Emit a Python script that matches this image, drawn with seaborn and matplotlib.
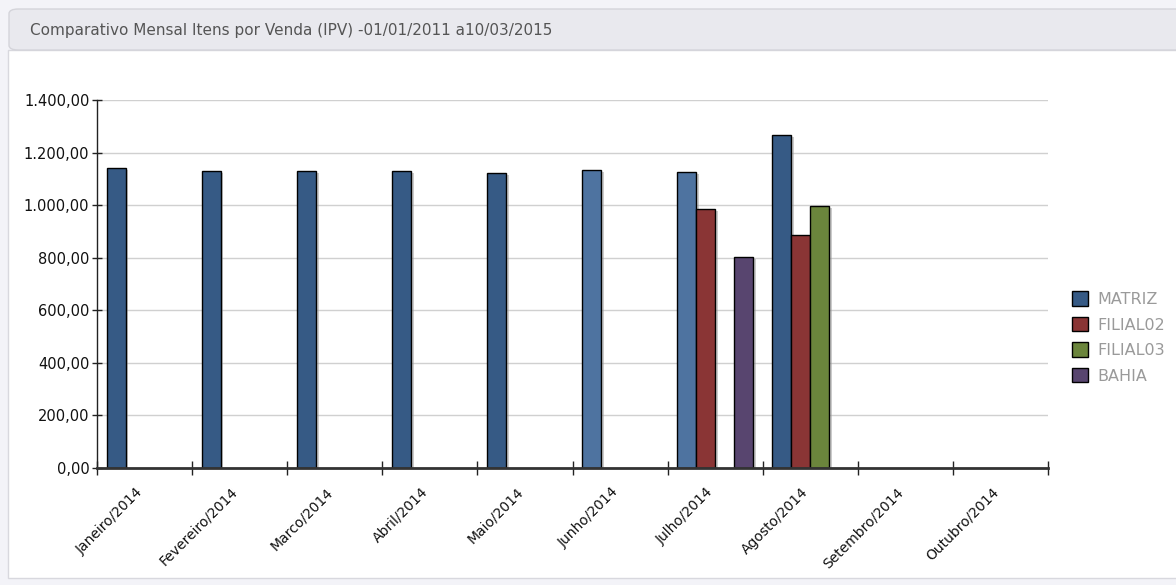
import numpy as np
import pandas as pd
import matplotlib
matplotlib.use("Agg")
import matplotlib.pyplot as plt
import seaborn as sns
from matplotlib.patches import FancyBboxPatch, Rectangle, Patch
from matplotlib.ticker import FixedLocator, FuncFormatter
from matplotlib.transforms import ScaledTranslation
import matplotlib.patheffects as pe

# ---- data ----
months = ["Janeiro/2014", "Fevereiro/2014", "Marco/2014", "Abril/2014", "Maio/2014",
          "Junho/2014", "Julho/2014", "Agosto/2014", "Setembro/2014", "Outubro/2014"]
series = ["MATRIZ", "FILIAL02", "FILIAL03", "BAHIA"]
matriz   = [1141, 1130, 1130, 1130, 1122, 1133, 1127, 1268, np.nan, np.nan]
filial02 = [np.nan] * 6 + [987, 888, np.nan, np.nan]
filial03 = [np.nan] * 7 + [998, np.nan, np.nan]
bahia    = [np.nan] * 6 + [804, np.nan, np.nan, np.nan]
colors = ["#365a85", "#8a3535", "#6b853c", "#58456f"]
highlight_color = "#4e73a0"
highlight_months = ["Junho/2014", "Julho/2014"]
title = "Comparativo Mensal Itens por Venda (IPV) -01/01/2011 a10/03/2015"

rows = []
for name, vals in zip(series, [matriz, filial02, filial03, bahia]):
    for m, v in zip(months, vals):
        rows.append({"mes": m, "serie": name, "valor": v})
df = pd.DataFrame(rows)

sns.set_style("white")
plt.rcParams["font.family"] = ["DejaVu Sans"]

W, H = 1176, 585
fig = plt.figure(figsize=(W / 100, H / 100), dpi=100)
fig.patch.set_facecolor("#f3f3f8")

def fx(px):
    return px / W

def fy(py):
    return 1 - py / H

# panel body
fig.patches.append(Rectangle((fx(8), fy(578)), fx(1200 - 8), (578 - 50) / H,
                             transform=fig.transFigure, facecolor="white",
                             edgecolor="#d8d8de", linewidth=1, zorder=-2))
# header
fig.patches.append(FancyBboxPatch((fx(9), fy(50)), fx(1200), (50 - 9) / H,
                                  boxstyle="round,pad=0,rounding_size=0.008",
                                  transform=fig.transFigure, facecolor="#e9e9ee",
                                  edgecolor="#d4d4da", linewidth=1, zorder=-1))
fig.text(fx(30), fy(31), title, fontsize=11, color="#555555", va="center", ha="left")

ax = fig.add_axes([fx(97), fy(468), fx(1048 - 97), (468 - 100) / H])
ax.set_zorder(3)
ax.set_facecolor("none")

sns.barplot(data=df, x="mes", y="valor", hue="serie", order=months, hue_order=series,
            palette=colors, width=0.8, edgecolor="black", linewidth=1.0,
            saturation=1, ax=ax, legend=False, zorder=3)

# highlight (lighter) MATRIZ bars for Junho / Julho
for p in ax.patches:
    cx = p.get_x() + p.get_width() / 2
    for m in highlight_months:
        i = months.index(m)
        if abs(cx - (i - 0.3)) < 0.05 and p.get_height() > 0:
            p.set_facecolor(highlight_color)
    p.set_path_effects([pe.SimplePatchShadow(offset=(2, -1.5), shadow_rgbFace="#999999", alpha=0.5),
                        pe.Normal()])

ax.set_ylim(0, 1400)
ax.set_xlim(-0.5, len(months) - 0.5)
ax.yaxis.set_major_locator(FixedLocator(np.arange(0, 1401, 200)))

def br(v, pos):
    s = f"{v:,.2f}"
    return s.replace(",", "X").replace(".", ",").replace("X", ".")

ax.yaxis.set_major_formatter(FuncFormatter(br))
ax.grid(axis="y", color="#d0d0d0", linewidth=1, zorder=0)
ax.set_axisbelow(True)

for s in ["top", "right"]:
    ax.spines[s].set_visible(False)
ax.spines["left"].set_color("#222222")
ax.spines["left"].set_linewidth(1)
ax.spines["bottom"].set_color("#333333")
ax.spines["bottom"].set_linewidth(2)
ax.spines["bottom"].set_zorder(5)

ax.tick_params(axis="y", direction="inout", length=7, width=1, color="#222222",
               labelsize=10.5, labelcolor="#111111", pad=2, left=True)
ax.set_xticks(range(len(months)))
ax.set_xticklabels(months, rotation=45, ha="right", va="center_baseline",
                   rotation_mode="anchor", fontsize=10, color="#111111")
ax.tick_params(axis="x", which="major", length=0, pad=15)
shift = ScaledTranslation(-5 / 100, 0, fig.dpi_scale_trans)
for lbl in ax.get_xticklabels():
    lbl.set_transform(lbl.get_transform() + shift)
ax.set_xticks(np.arange(-0.5, len(months)), minor=True)
ax.tick_params(axis="x", which="minor", direction="inout", length=10, width=1, color="#222222",
               bottom=True)
ax.set_xlabel("")
ax.set_ylabel("")

handles = [Patch(facecolor=c, edgecolor="black", linewidth=1) for c in colors]
leg = fig.legend(handles, series, loc="upper left", bbox_to_anchor=(fx(1066), fy(285)),
                 frameon=False, fontsize=11.5, handlelength=1.0, handleheight=1.0,
                 handletextpad=0.55, labelspacing=0.62, borderaxespad=0)
for t in leg.get_texts():
    t.set_color("#9a9a9a")

fig.savefig("out.png", dpi=100, facecolor=fig.get_facecolor())
